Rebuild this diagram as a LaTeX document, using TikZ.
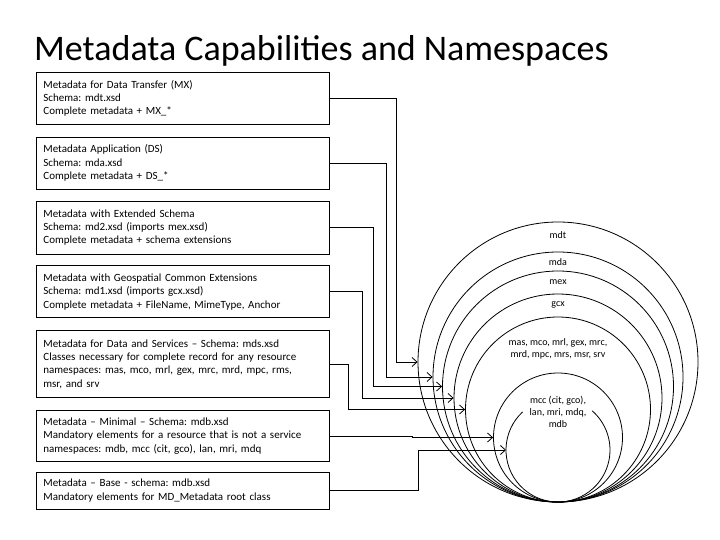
\documentclass[tikz,border=0pt]{standalone}
\usepackage{fontspec}
\setmainfont{Carlito}
\frenchspacing
\usepackage{tikz}
\usetikzlibrary{
        arrows.meta,
        positioning
    }
\tikzset{infobox/.style={draw,line width=0.8pt,minimum width=293pt,text width=279pt,
        inner xsep=7pt,align=left,font=\fontsize{11}{13.4}\selectfont}}
\tikzset{ring/.style={draw,circle,line width=0.8pt,inner sep=0pt}}
\tikzset{nstag/.style={font=\fontsize{10}{12}\selectfont,align=center,inner sep=1pt}}
\tikzset{link/.style={->,line width=0.8pt,>={Straight Barb[length=5pt,width=9pt]}}}

\begin{document}
\begin{tikzpicture}[x=1pt,y=-1pt]
                \useasboundingbox (0,0) rectangle (720,540);
                \node[anchor=base west,font=\fontsize{36}{42}\selectfont,inner sep=0pt] (title) at (34,61)
                    {Metadata Capabilities and Namespaces};
                % left column of boxes
                \node[infobox,minimum height=52pt,anchor=north west] (b1) at (36,72)
                    {Metadata for Data Transfer (MX)\\Schema: mdt.xsd\\Complete metadata + MX\_*};
                \node[infobox,minimum height=52pt] (b2) [below=12pt of b1]
                    {Metadata Application (DS)\\Schema: mda.xsd\\Complete metadata + DS\_*};
                \node[infobox,minimum height=53pt] (b3) [below=11pt of b2]
                    {Metadata with Extended Schema\\Schema: md2.xsd (imports mex.xsd)\\Complete metadata + schema extensions};
                \node[infobox,minimum height=52pt] (b4) [below=11pt of b3]
                    {Metadata with Geospatial Common Extensions\\Schema: md1.xsd (imports gcx.xsd)\\Complete metadata + FileName, MimeType, Anchor};
                \node[infobox,minimum height=67pt] (b5) [below=12pt of b4]
                    {Metadata for Data and Services -- Schema: mds.xsd\\Classes necessary for complete record for any resource\\namespaces: mas, mco, mrl, gex, mrc, mrd, mpc, rms,\\msr, and srv};
                \node[infobox,minimum height=51pt] (b6) [below=12pt of b5]
                    {Metadata -- Minimal -- Schema: mdb.xsd\\Mandatory elements for a resource that is not a service\\namespaces: mdb, mcc (cit, gco), lan, mri, mdq};
                \node[infobox,minimum height=37pt] (b7) [below=10pt of b6]
                    {Metadata -- Base - schema: mdb.xsd\\Mandatory elements for MD\_Metadata root class};
                % nested namespaces
                \node[ring,minimum size=280pt] (mdt) at (558,362) {};
                \node[ring,minimum size=250pt] (mda) at (558,377) {};
                \node[ring,minimum size=231pt] (mex) at (558,386.5) {};
                \node[ring,minimum size=208pt] (gcx) at (558,398) {};
                \node[ring,minimum size=185pt] (mas) at (558,409.5) {};
                \node[ring,minimum size=129pt] (mcc) at (558,437.5) {};
                \coordinate (mdb) at (506,450);
                \draw[line width=0.8pt] ([shift={(133:52pt)}]558,450) arc[start angle=133,end angle=409,radius=52pt];
                \node[nstag] (tmdt) at (558,235) {mdt};
                \node[nstag] (tmda) at (558,262) {mda};
                \node[nstag] (tmex) at (558,282) {mex};
                \node[nstag] (tgcx) at (558,305) {gcx};
                \node[nstag] (tmas) at (558,349) {mas, mco, mrl, gex, mrc,\\mrd, mpc, mrs, msr, srv};
                \node[nstag] (tmcc) at (558,412) {mcc (cit, gco),\\lan, mri, mdq,\\mdb};
                % connectors
                \draw[link] (b1.east) -- ++(67,0) |- (mdt.west);
                \draw[link] (b2.east) -- ++(57,0) |- (mda.west);
                \draw[link] (b3.east) -- ++(44,0) |- (mex.west);
                \draw[link] (b4.east) -- ++(33,0) |- (gcx.west);
                \draw[link] (b5.east) -- ++(19,0) |- (mas.west);
                \draw[link] (b6.east) -- ++(83,0) |- (mcc.west);
                \draw[link] (b7.east) -- ++(89,0) |- (mdb);
\end{tikzpicture}
\end{document}
